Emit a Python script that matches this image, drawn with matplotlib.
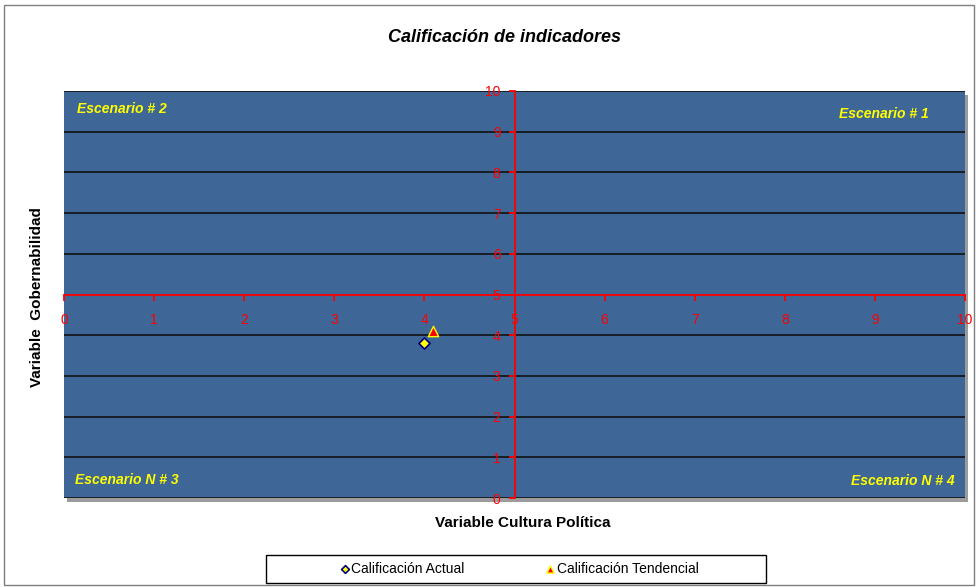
import matplotlib.pyplot as plt
from matplotlib.patches import Rectangle

plt.rcParams['font.family'] = ['Liberation Sans', 'DejaVu Sans']

# data
actual_x = [4.0]
actual_y = [3.8]
trend_x = [4.1]
trend_y = [4.1]
ticks = list(range(0, 11))
scenarios = ['Escenario # 2', 'Escenario # 1', 'Escenario N # 3', 'Escenario N # 4']

bg = '#3E6696'

fig = plt.figure(figsize=(9.76, 5.87), dpi=100)

# outer chart frame
fig.add_artist(Rectangle((4 / 976, 2 / 587), 970 / 976, 580 / 587, transform=fig.transFigure,
                         fill=False, edgecolor='#7f7f7f', linewidth=1.0))

left, bottom = 64 / 976, 1 - 498 / 587
width, height = (965 - 64) / 976, (498 - 91) / 587

# drop shadow behind plot area
fig.add_artist(Rectangle((left + 3 / 976, bottom - 4 / 587), width, height, transform=fig.transFigure,
                         facecolor='#5a5a5a', edgecolor='none', alpha=0.6, zorder=0))

ax = fig.add_axes([left, bottom, width, height])
ax.set_facecolor(bg)
ax.set_xlim(0, 10)
ax.set_ylim(0, 10)

# horizontal gridlines (y = 5 is the red axis itself)
for y in ticks:
    if y != 5:
        ax.axhline(y, color='#111111', linewidth=1.2, zorder=1)

# axes crossing at (5, 5)
ax.spines['left'].set_position(('data', 5))
ax.spines['bottom'].set_position(('data', 5))
for s in ['left', 'bottom']:
    ax.spines[s].set_color('#FF0000')
    ax.spines[s].set_linewidth(1.3)
    ax.spines[s].set_zorder(3)
for s in ['top', 'right']:
    ax.spines[s].set_visible(False)

ax.set_xticks(ticks)
ax.set_yticks(ticks)
ax.tick_params(axis='both', colors='#FF0000', labelcolor='#FF0000', labelsize=10,
               direction='out', length=4, width=1.3)
ax.tick_params(axis='x', pad=9)
ax.tick_params(axis='y', pad=6)

ax.scatter(actual_x, actual_y, marker='D', s=32, facecolor='#FFFF00', edgecolor='#000080',
           linewidth=1.2, zorder=5, label='Calificación Actual')
ax.scatter(trend_x, trend_y, marker='^', s=55, facecolor='#FF0000', edgecolor='#FFFF00',
           linewidth=1.0, zorder=5, label='Calificación Tendencial')

txt = dict(color='#FFFF00', fontsize=10, fontweight='bold', fontstyle='italic')
ax.text(0.014, 0.955, scenarios[0], transform=ax.transAxes, ha='left', va='center', **txt)
ax.text(0.960, 0.943, scenarios[1], transform=ax.transAxes, ha='right', va='center', **txt)
ax.text(0.012, 0.045, scenarios[2], transform=ax.transAxes, ha='left', va='center', **txt)
ax.text(0.988, 0.042, scenarios[3], transform=ax.transAxes, ha='right', va='center', **txt)

fig.text(505 / 976, 1 - 38 / 587, 'Calificación de indicadores', ha='center', va='center',
         fontsize=13, fontweight='bold', fontstyle='italic')
fig.text(523 / 976, 1 - 523 / 587, 'Variable Cultura Política', ha='center', va='center',
         fontsize=11, fontweight='bold')
fig.text(37 / 976, 1 - 297 / 587, 'Variable  Gobernabilidad', ha='center', va='center',
         rotation=90, fontsize=11, fontweight='bold')

# legend box drawn separately to get the wide Excel-style frame
fig.add_artist(Rectangle((266 / 976, 1 - 583 / 587), 500 / 976, 28 / 587, transform=fig.transFigure,
                         facecolor='white', edgecolor='black', linewidth=1.0))
handles, labels = ax.get_legend_handles_labels()
leg = fig.legend(handles, labels, loc='center', ncol=2,
                 bbox_to_anchor=(518 / 976, 1 - 569 / 587),
                 frameon=False, fontsize=10, handletextpad=0.0,
                 handlelength=1.0, columnspacing=5.6, markerscale=0.7,
                 borderaxespad=0)

fig.savefig('out.png', dpi=100)
